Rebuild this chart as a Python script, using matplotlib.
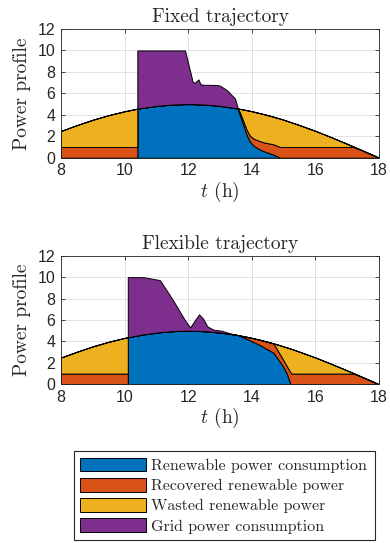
import numpy as np
import matplotlib
matplotlib.use('Agg')
import matplotlib.pyplot as plt

plt.rcParams['font.family'] = ['Liberation Sans', 'DejaVu Sans']
plt.rcParams['mathtext.fontset'] = 'cm'
plt.rcParams['axes.unicode_minus'] = False

# ---------------- Fixed trajectory ----------------
hours_fixed = [8, 8.5, 9, 9.5, 10, 10.4, 10.4, 10.5, 11, 11.5, 11.9, 12.14, 12.2, 12.32,
               12.39, 12.5, 12.9, 13.0, 13.21, 13.47, 13.56, 13.63, 13.84, 13.94, 14.05,
               14.1, 14.31, 14.42, 14.68, 14.89, 15, 15.5, 16, 16.5, 17, 17.2, 17.5, 18]
available_fixed = [2.50, 3.04, 3.54, 3.97, 4.33, 4.57, 4.57, 4.62, 4.83, 4.96, 5.00, 5.00,
                   4.99, 4.98, 4.97, 4.96, 4.86, 4.83, 4.75, 4.63, 4.59, 4.55, 4.43, 4.37,
                   4.30, 4.26, 4.11, 4.03, 3.82, 3.64, 3.54, 3.04, 2.50, 1.91, 1.29, 1.04,
                   0.65, 0.00]
renewable_fixed = [0, 0, 0, 0, 0, 0, 4.57, 4.62, 4.83, 4.96, 5.00, 5.00, 4.99, 4.98, 4.97,
                   4.96, 4.86, 4.83, 4.75, 4.63, 4.54, 3.94, 2.12, 1.49, 1.15, 1.03, 0.68,
                   0.56, 0.28, 0, 0, 0, 0, 0, 0, 0, 0, 0]
recovered_fixed = [1, 1, 1, 1, 1, 1, 0, 0, 0, 0, 0, 0, 0, 0, 0, 0, 0, 0, 0, 0, 0.05, 0.27,
                   0.48, 0.56, 0.65, 0.69, 0.81, 0.84, 0.97, 1.0, 1.0, 1.0, 1.0, 1.0, 1.0,
                   1.0, 0.65, 0]
grid_fixed = [0, 0, 0, 0, 0, 0, 5.43, 5.38, 5.17, 5.04, 5.00, 2.08, 1.99, 2.32, 1.87, 1.84,
              1.92, 1.89, 1.56, 0.90, 0, 0, 0, 0, 0, 0, 0, 0, 0, 0, 0, 0, 0, 0, 0, 0, 0, 0]

# ---------------- Flexible trajectory ----------------
hours_flex = [8, 8.5, 9, 9.5, 10, 10.1, 10.1, 10.59, 11.11, 11.5, 11.9, 12.06, 12.21, 12.34,
              12.47, 12.6, 12.79, 13.05, 13.31, 13.58, 13.94, 14.26, 14.68, 14.89, 14.99,
              15.1, 15.22, 15.25, 15.5, 16, 16.5, 17, 17.2, 17.5, 18]
available_flex = [2.50, 3.04, 3.54, 3.97, 4.33, 4.39, 4.39, 4.66, 4.86, 4.96, 5.00, 5.00,
                  4.99, 4.98, 4.96, 4.94, 4.89, 4.81, 4.71, 4.58, 4.37, 4.15, 3.82, 3.64,
                  3.54, 3.44, 3.33, 3.30, 3.04, 2.50, 1.91, 1.29, 1.04, 0.65, 0.00]
renewable_flex = [0, 0, 0, 0, 0, 0, 4.39, 4.66, 4.86, 4.96, 5.00, 5.00, 4.99, 4.98, 4.96,
                  4.94, 4.89, 4.81, 4.71, 4.58, 4.10, 3.65, 2.95, 2.07, 1.64, 1.0, 0, 0, 0,
                  0, 0, 0, 0, 0, 0]
recovered_flex = [1, 1, 1, 1, 1, 1, 0, 0, 0, 0, 0, 0, 0, 0, 0, 0, 0, 0, 0, 0, 0.27, 0.50,
                  0.87, 0.70, 0.63, 0.70, 1.1, 1.0, 1.0, 1.0, 1.0, 1.0, 1.0, 0.65, 0]
grid_flex = [0, 0, 0, 0, 0, 0, 5.61, 5.34, 4.86, 2.99, 0.97, 0.30, 0.98, 1.55, 1.16, 0.47,
             0.21, 0.19, 0.05, 0, 0, 0, 0, 0, 0, 0, 0, 0, 0, 0, 0, 0, 0, 0, 0]

series_labels = ['Renewable power consumption', 'Recovered renewable power',
                 'Wasted renewable power', 'Grid power consumption']
series_colors = ['#0072BD', '#D95319', '#EDB120', '#7E2F8E']
panel_titles = ['Fixed trajectory', 'Flexible trajectory']
x_ticks = [8, 10, 12, 14, 16, 18]
y_ticks = [0, 2, 4, 6, 8, 10, 12]

panels = [
    (hours_fixed, available_fixed, renewable_fixed, recovered_fixed, grid_fixed),
    (hours_flex, available_flex, renewable_flex, recovered_flex, grid_flex),
]

W, H = 390, 543
fig = plt.figure(figsize=(W / 100, H / 100), dpi=100)
axes_boxes = [
    [61 / W, 1 - 157.7 / H, 318 / W, 128.7 / H],
    [61 / W, 1 - 384.3 / H, 318 / W, 128.6 / H],
]
axis_color = '#262626'
serif = 'cmr10'

handles = None
for box, title, (t, avail, ren, rec, grd) in zip(axes_boxes, panel_titles, panels):
    ax = fig.add_axes(box)
    t = np.array(t)
    avail = np.array(avail)
    ren = np.array(ren)
    rec = np.array(rec)
    grd = np.array(grd)
    wasted = np.clip(avail - ren - rec, 0, None)
    polys = ax.stackplot(t, ren, rec, wasted, grd, colors=series_colors,
                         edgecolor='black', linewidth=0.7, labels=series_labels)
    if handles is None:
        handles = polys
    ax.set_xlim(8, 18)
    ax.set_ylim(0, 12)
    ax.set_xticks(x_ticks)
    ax.set_yticks(y_ticks)
    ax.grid(True, color='#e2e2e2', linewidth=0.7)
    ax.set_axisbelow(True)
    ax.tick_params(direction='in', top=True, right=True, length=3, width=0.6,
                   labelsize=11.5, colors=axis_color, pad=4)
    for s in ax.spines.values():
        s.set_color(axis_color)
        s.set_linewidth(0.6)
    ax.set_title(title, fontfamily=serif, fontsize=14, color='#262626', pad=5)
    ax.set_ylabel('Power profile', fontfamily=serif, fontsize=14, color='#262626', labelpad=5)
    ax.set_xlabel('$t$ (h)', fontfamily=serif, fontsize=14, color='#262626', labelpad=1)

leg = fig.legend(handles, series_labels, loc='lower left',
                 bbox_to_anchor=(74 / W, 3 / H, 301 / W, 85 / H), mode='expand',
                 prop={'family': serif, 'size': 11.5}, handlelength=4.1,
                 handleheight=0.95, labelspacing=0.3, handletextpad=0.3,
                 borderpad=0.4, borderaxespad=0, fancybox=False, framealpha=1)
leg.get_frame().set_edgecolor('#262626')
leg.get_frame().set_linewidth(0.8)
for txt in leg.get_texts():
    txt.set_color('#262626')

fig.savefig('out.png', dpi=100)
